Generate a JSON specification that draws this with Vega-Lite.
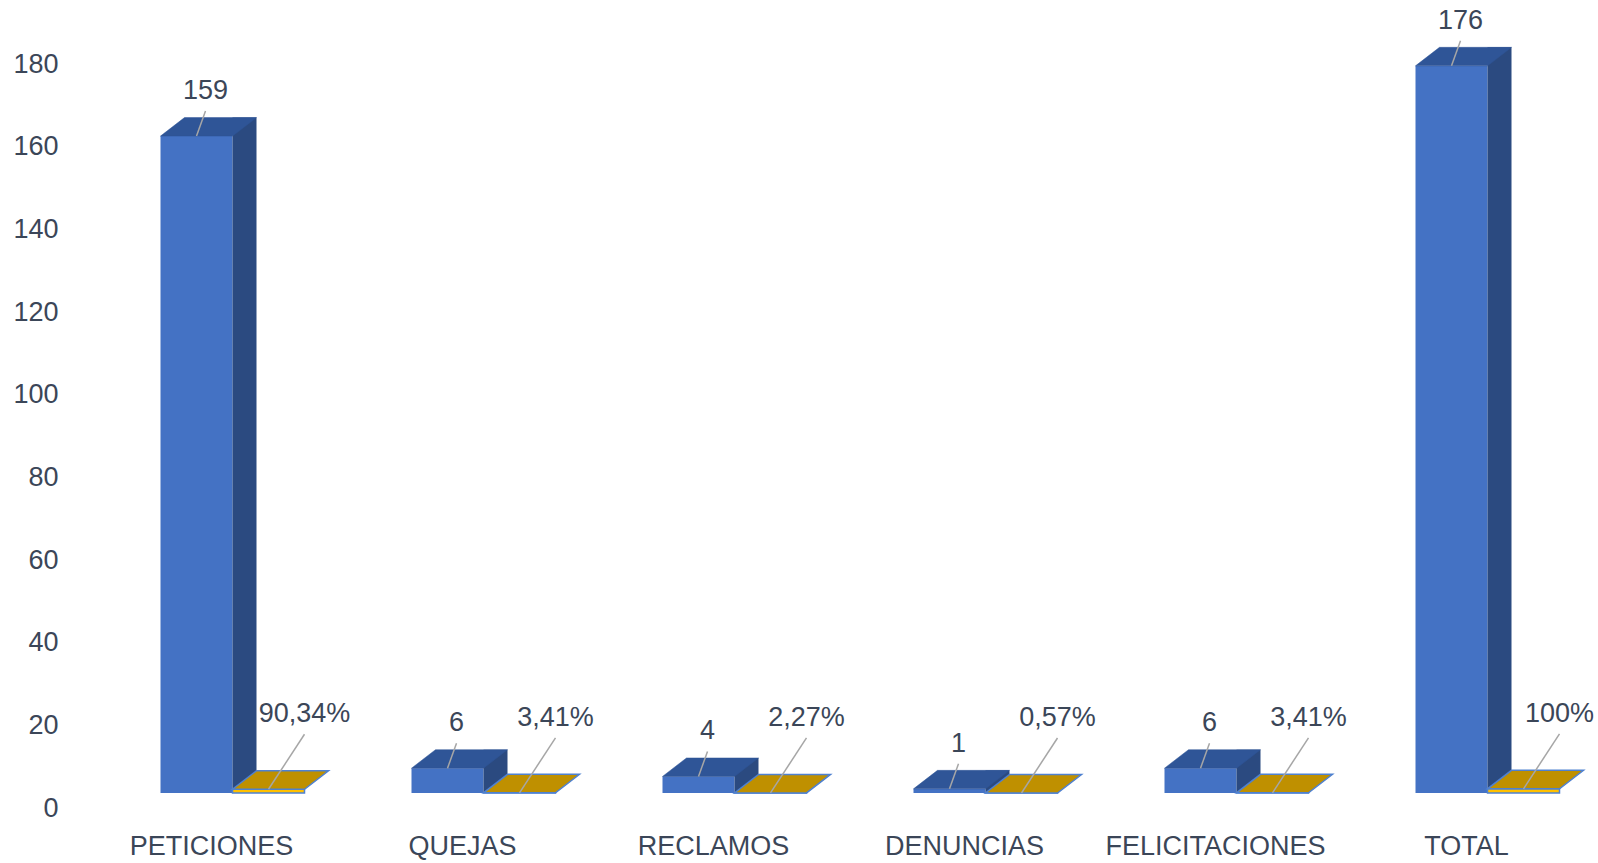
{
  "$schema": "https://vega.github.io/schema/vega-lite/v6.json",
  "width": 1506,
  "height": 785,
  "autosize": {"type": "none"},
  "padding": {"left": 86, "top": 8, "right": 6, "bottom": 70},
  "background": "white",
  "config": {
    "view": {"stroke": null},
    "font": "Liberation Sans, Arial, sans-serif",
    "axisX": {"labelFontSize": 27, "labelColor": "#3b4658", "labelPadding": 40, "domain": false, "ticks": false, "labelAngle": 0, "labelLimit": 400, "grid": false, "labelFont": "Liberation Sans, Arial, sans-serif"},
    "axisY": {"labelFontSize": 27, "labelColor": "#3b4658", "labelPadding": 28, "labelOffset": 15, "domain": false, "ticks": false, "grid": false, "tickCount": 10, "labelFlush": false, "labelOverlap": false, "labelFont": "Liberation Sans, Arial, sans-serif"}
  },
  "data": {
    "values": [
      {"categoria": "PETICIONES", "cantidad": 159, "porcentaje": 0.9034, "etiqueta": "90,34%"},
      {"categoria": "QUEJAS", "cantidad": 6, "porcentaje": 0.0341, "etiqueta": "3,41%"},
      {"categoria": "RECLAMOS", "cantidad": 4, "porcentaje": 0.0227, "etiqueta": "2,27%"},
      {"categoria": "DENUNCIAS", "cantidad": 1, "porcentaje": 0.0057, "etiqueta": "0,57%"},
      {"categoria": "FELICITACIONES", "cantidad": 6, "porcentaje": 0.0341, "etiqueta": "3,41%"},
      {"categoria": "TOTAL", "cantidad": 176, "porcentaje": 1.0, "etiqueta": "100%"}
    ]
  },
  "encoding": {
    "x": {"field": "categoria", "type": "nominal", "sort": null, "title": null, "scale": {"paddingInner": 0, "paddingOuter": 0}}
  },
  "layer": [
    {
      "mark": {"type": "bar", "width": 72, "xOffset": -15, "color": "#4472c4"},
      "encoding": {
        "y": {"field": "cantidad", "type": "quantitative", "scale": {"domain": [0, 190], "nice": false}, "axis": {"title": null}},
        "y2": {"datum": 0}
      }
    },
    {
      "mark": {"type": "bar", "width": 24, "xOffset": 33, "yOffset": -18.5, "color": "#2b4a80"},
      "encoding": {
        "y": {"field": "cantidad", "type": "quantitative", "scale": {"domain": [0, 190], "nice": false}, "axis": {"title": null}},
        "y2": {"datum": 0}
      }
    },
    {
      "mark": {"type": "bar", "width": 72, "xOffset": 57, "color": "#ffc000", "stroke": "#4f81d0", "strokeWidth": 1.5},
      "encoding": {
        "y": {"field": "porcentaje", "type": "quantitative", "scale": {"domain": [0, 190], "nice": false}, "axis": {"title": null}},
        "y2": {"datum": 0}
      }
    },
    {
      "mark": {"type": "point", "shape": "M 21 0 L 93 0 L 117 -18.5 L 45 -18.5 Z", "size": 4, "filled": true, "opacity": 1, "fill": "#bf9000", "stroke": "#4f81d0", "strokeWidth": 1.5},
      "encoding": {
        "y": {"field": "porcentaje", "type": "quantitative", "scale": {"domain": [0, 190], "nice": false}, "axis": {"title": null}}
      }
    },
    {
      "mark": {"type": "point", "shape": "M -51 0 L 21 0 L 45 -18.5 L -27 -18.5 Z", "size": 4, "filled": true, "opacity": 1, "fill": "#2f5597", "stroke": "#2f5597", "strokeWidth": 0.5},
      "encoding": {
        "y": {"field": "cantidad", "type": "quantitative", "scale": {"domain": [0, 190], "nice": false}, "axis": {"title": null}}
      }
    },
    {
      "mark": {"type": "point", "shape": "M -6 -25 L -15 0", "size": 4, "filled": false, "opacity": 1, "color": "#a6a6a6", "strokeWidth": 1.5},
      "encoding": {
        "y": {"field": "cantidad", "type": "quantitative", "scale": {"domain": [0, 190], "nice": false}, "axis": {"title": null}}
      }
    },
    {
      "mark": {"type": "point", "shape": "M 93 -55 L 57 0", "size": 4, "filled": false, "opacity": 1, "color": "#a6a6a6", "strokeWidth": 1.5},
      "encoding": {
        "y": {"field": "porcentaje", "type": "quantitative", "scale": {"domain": [0, 190], "nice": false}, "axis": {"title": null}}
      }
    },
    {
      "mark": {"type": "text", "dx": -6, "dy": -45, "fontSize": 27, "color": "#3b4658", "baseline": "middle", "align": "center"},
      "encoding": {
        "y": {"field": "cantidad", "type": "quantitative", "scale": {"domain": [0, 190], "nice": false}, "axis": {"title": null}},
        "text": {"field": "cantidad", "type": "quantitative"}
      }
    },
    {
      "mark": {"type": "text", "dx": 93, "dy": -75, "fontSize": 27, "color": "#3b4658", "baseline": "middle", "align": "center"},
      "encoding": {
        "y": {"field": "porcentaje", "type": "quantitative", "scale": {"domain": [0, 190], "nice": false}, "axis": {"title": null}},
        "text": {"field": "etiqueta", "type": "nominal"}
      }
    }
  ]
}
